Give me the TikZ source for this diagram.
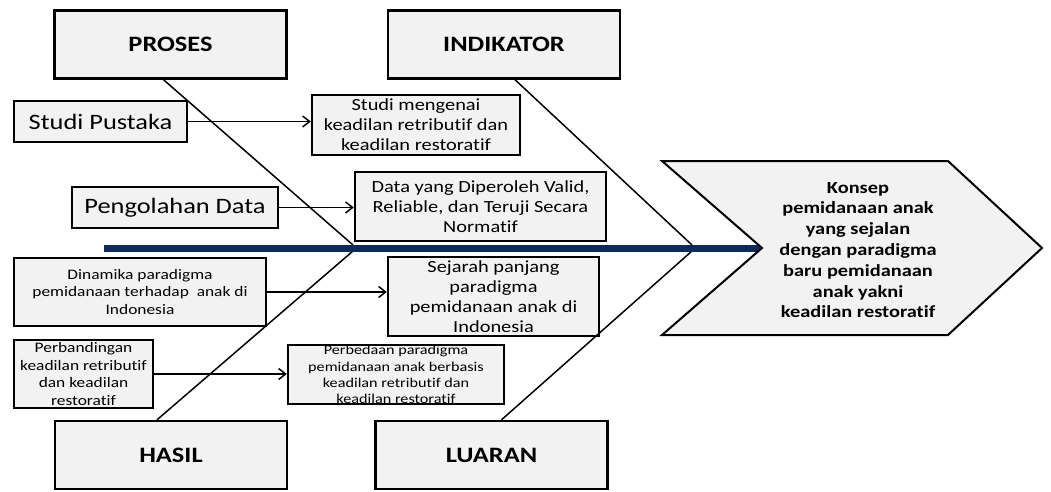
\documentclass[tikz,border=0pt]{standalone}
\usepackage{fontspec}
\setmainfont{Carlito}[FakeStretch=1.2, Ligatures=NoCommon]
\usetikzlibrary{positioning, arrows.meta, calc}
\definecolor{boxgray}{HTML}{F2F2F2}
\definecolor{spinenavy}{HTML}{0C2A5E}

\begin{document}
\begin{tikzpicture}[x=1pt, y=-1pt,
    box/.style={draw, line width=2.4pt, fill=boxgray, align=center, inner sep=0pt},
    head/.style={box, minimum width=232pt, minimum height=68pt, font=\fontsize{22}{26}\selectfont\bfseries},
    bone/.style={line width=1.5pt},
    flow/.style={-{Straight Barb[length=7pt, width=11pt]}, line width=1.5pt}
]
\useasboundingbox (0,0) rectangle (1051,492);

% Kepala tulang
\node[head] (proses) at (170.5,44.5) {PROSES};
\node[head] (indikator) at (504,44.5) {INDIKATOR};
\node[head] (hasil) at (171,455) {HASIL};
\node[head] (luaran) at (491.5,455) {LUARAN};

% Kotak kiri
\node[box, minimum width=173pt, minimum height=41pt, font=\fontsize{22}{26}\selectfont] (studi) at (100.5,121.5) {Studi Pustaka};
\node[box, minimum width=206pt, minimum height=41pt, font=\fontsize{22}{26}\selectfont] (olah) at (175,207.5) {Pengolahan Data};
\node[box, minimum width=252pt, minimum height=68pt, font=\fontsize{14.5}{17.5}\selectfont] (dinamika) at (140,292) {Dinamika paradigma\\pemidanaan terhadap\ \ anak di\\Indonesia};
\node[box, minimum width=139pt, minimum height=68pt, font=\fontsize{14.5}{17.5}\selectfont] (banding) at (83.5,374) {Perbandingan\\keadilan retributif\\dan keadilan\\restoratif};

% Kotak kanan
\node[box, minimum width=208pt, minimum height=60pt, font=\fontsize{17}{20}\selectfont] (mengenai) at (416,125) {Studi mengenai\\keadilan retributif dan\\keadilan restoratif};
\node[box, minimum width=251pt, minimum height=69pt, font=\fontsize{17}{20}\selectfont] (data) at (480.5,206.5) {Data yang Diperoleh Valid,\\Reliable, dan Teruji Secara\\Normatif};
\node[box, minimum width=211pt, minimum height=79pt, font=\fontsize{17}{20}\selectfont] (sejarah) at (493.5,296.5) {Sejarah panjang\\paradigma\\pemidanaan anak di\\Indonesia};
\node[box, minimum width=216pt, minimum height=59pt, font=\fontsize{13.5}{16.2}\selectfont] (beda) at (396,374.5) {Perbedaan paradigma\\pemidanaan anak berbasis\\keadilan retributif dan\\keadilan restoratif};

\draw[flow] (studi.east) -- (studi.east -| mengenai.west);
\draw[flow] (olah.east) -- (olah.east -| data.west);
\draw[flow] (dinamika.east) -- (dinamika.east -| sejarah.west);
\draw[flow] (banding.east) -- (banding.east -| beda.west);

% Tulang miring
\coordinate (j1) at (353,245);
\coordinate (j2) at (353,251);
\coordinate (j3) at (692,245);
\coordinate (j4) at (692,251);
\draw[bone] ([xshift=-7pt]proses.south) -- (j1);
\draw[bone] ([xshift=-14pt]hasil.north) -- (j2);
\draw[bone] ([xshift=11pt]indikator.south) -- (j3);
\draw[bone] ([xshift=10pt]luaran.north) -- (j4);

% Tulang utama dan kepala ikan
\coordinate (spine) at (104,248);
\coordinate (notch) at (762,248);
\draw[line width=7pt, spinenavy] (spine) -- (notch);
\draw[line width=2pt, fill=boxgray, line join=miter] (662,161) -- (948,161) -- (1042,248) -- (948,335) -- (662,335) -- (notch) -- cycle;
\node[align=center, font=\fontsize{17}{20.8}\selectfont\bfseries] (konsep) at (858,250) {Konsep\\pemidanaan anak\\yang sejalan\\dengan paradigma\\baru pemidanaan\\anak yakni\\keadilan restoratif};

\end{tikzpicture}
\end{document}
